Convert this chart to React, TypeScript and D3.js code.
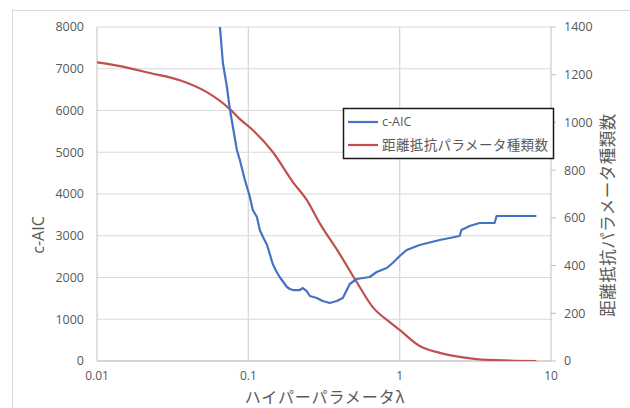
import React from "react";
import * as d3 from "d3";

const xTicks = [0.01, 0.1, 1, 10];
const xTickLabels = ["0.01", "0.1", "1", "10"];
const leftTicks = [0, 1000, 2000, 3000, 4000, 5000, 6000, 7000, 8000];
const rightTicks = [0, 200, 400, 600, 800, 1000, 1200, 1400];

const aicLambda = [0.0649, 0.0679, 0.0722, 0.0755, 0.0791, 0.084, 0.0879, 0.0949, 0.0993, 0.102, 0.107, 0.114, 0.119, 0.125, 0.133, 0.145, 0.154, 0.161, 0.18, 0.188, 0.197, 0.219, 0.229, 0.243, 0.255, 0.283, 0.31, 0.345, 0.384, 0.421, 0.468, 0.52, 0.634, 0.705, 0.821, 0.899, 1.0, 1.112, 1.356, 1.84, 2.49, 2.56, 2.9, 3.37, 4.24, 4.37, 8.0];
const aicValues = [8000, 7137, 6562, 6035, 5604, 5053, 4814, 4335, 4095, 3952, 3616, 3449, 3137, 2970, 2778, 2323, 2132, 2012, 1772, 1724, 1700, 1700, 1748, 1676, 1556, 1509, 1437, 1389, 1437, 1509, 1844, 1964, 2012, 2132, 2227, 2347, 2515, 2658, 2778, 2898, 2994, 3137, 3233, 3305, 3305, 3473, 3473];

const cntLambda = [0.01, 0.0142, 0.0224, 0.0353, 0.0532, 0.0755, 0.0879, 0.102, 0.145, 0.197, 0.243, 0.296, 0.402, 0.52, 0.664, 0.859, 1.0, 1.356, 1.84, 2.49, 3.22, 5.32, 8.0];
const cntValues = [1252, 1236, 1207, 1177, 1127, 1056, 1014, 980, 876, 750, 675, 578, 448, 331, 226, 163, 130, 63, 34, 17, 8, 2, 0];

const seriesNames = ["c-AIC", "距離抵抗パラメータ種類数"];
const xTitle = "ハイパーパラメータλ";
const leftTitle = "c-AIC";
const rightTitle = "距離抵抗パラメータ種類数";

const W = 630, H = 408;
const L = 97, R = 551, T = 27, B = 361;
const BLUE = "#4472C4";
const RED = "#C0504D";
const GRID = "#d9d9d9";
const TXT = "#595959";
const JP = "'Noto Sans CJK JP', 'Noto Sans', sans-serif";
const LAT = "'Open Sans', 'Noto Sans', sans-serif";

export default function App() {
  const x = d3.scaleLog().domain([0.01, 10]).range([L, R]);
  const yL = d3.scaleLinear().domain([0, 8000]).range([B, T]);
  const yR = d3.scaleLinear().domain([0, 1400]).range([B, T]);

  const aicLine = d3.line<number>().x((_, i) => x(aicLambda[i])).y((d) => yL(d));
  const cntLine = d3
    .line<number>()
    .x((_, i) => x(cntLambda[i]))
    .y((d) => yR(d))
    .curve(d3.curveMonotoneX);

  return (
    <svg width={W} height={H} style={{ position: "absolute", left: 0, top: 0, background: "#fff" }}>
      <rect x={12.5} y={10.5} width={630} height={420} fill="#fff" stroke={GRID} />
      <defs>
        <clipPath id="plot">
          <rect x={L} y={T} width={R - L} height={B - T} />
        </clipPath>
      </defs>
      {leftTicks.map((t) => (
        <line key={"h" + t} x1={L} x2={R} y1={yL(t)} y2={yL(t)} stroke={GRID} strokeWidth={1} />
      ))}
      {xTicks.slice(1, 3).map((t) => (
        <line key={"v" + t} x1={x(t)} x2={x(t)} y1={T} y2={B} stroke={GRID} strokeWidth={1.3} />
      ))}
      <line x1={L} x2={L} y1={T} y2={B} stroke="#bfbfbf" />
      <line x1={L} x2={R} y1={B} y2={B} stroke="#bfbfbf" />
      <line x1={R} x2={R} y1={T} y2={B} stroke="#bfbfbf" />
      {rightTicks.map((t) => (
        <line key={"rt" + t} x1={R} x2={R + 5} y1={yR(t)} y2={yR(t)} stroke="#bfbfbf" />
      ))}
      <g clipPath="url(#plot)">
        <path d={cntLine(cntValues) || ""} fill="none" stroke={RED} strokeWidth={2.2} strokeLinejoin="round" />
        <path d={aicLine(aicValues) || ""} fill="none" stroke={BLUE} strokeWidth={2.2} strokeLinejoin="round" />
      </g>
      {leftTicks.map((t) => (
        <text key={"lt" + t} x={84} y={yL(t)} dy="0.35em" textAnchor="end" fontSize={12.5} fill={TXT} fontFamily={LAT}>
          {t}
        </text>
      ))}
      {rightTicks.map((t) => (
        <text key={"rl" + t} x={564} y={yR(t)} dy="0.35em" textAnchor="start" fontSize={12.5} fill={TXT} fontFamily={LAT}>
          {t}
        </text>
      ))}
      {xTicks.map((t, i) => (
        <text key={"xl" + t} x={x(t)} y={376} dy="0.35em" textAnchor="middle" fontSize={12} fill={TXT} fontFamily={LAT}>
          {xTickLabels[i]}
        </text>
      ))}
      <text x={325} y={397.5} dy="0.35em" textAnchor="middle" fontSize={16} fill={TXT} fontFamily={JP} letterSpacing={0.9}>
        {xTitle}
      </text>
      <text transform="translate(38,235) rotate(-90)" dy="0.35em" textAnchor="middle" fontSize={16} fill={TXT} fontFamily={LAT}>
        {leftTitle}
      </text>
      <text transform="translate(608,215) rotate(-90)" dy="0.35em" textAnchor="middle" fontSize={16.5} fill={TXT} fontFamily={JP} letterSpacing={0.5}>
        {rightTitle}
      </text>
      <g>
        <rect x={343.5} y={108.5} width={210} height={50} fill="#fff" stroke="#1a1a1a" strokeWidth={1.5} />
        <line x1={348} x2={378} y1={122} y2={122} stroke={BLUE} strokeWidth={2.2} />
        <line x1={348} x2={378} y1={145} y2={145} stroke={RED} strokeWidth={2.2} />
        <text x={382} y={122} dy="0.35em" fontSize={12.5} fill={TXT} fontFamily={LAT}>{seriesNames[0]}</text>
        <text x={382} y={145} dy="0.35em" fontSize={13.5} fill={TXT} fontFamily={JP} letterSpacing={0.4}>{seriesNames[1]}</text>
      </g>
    </svg>
  );
}
